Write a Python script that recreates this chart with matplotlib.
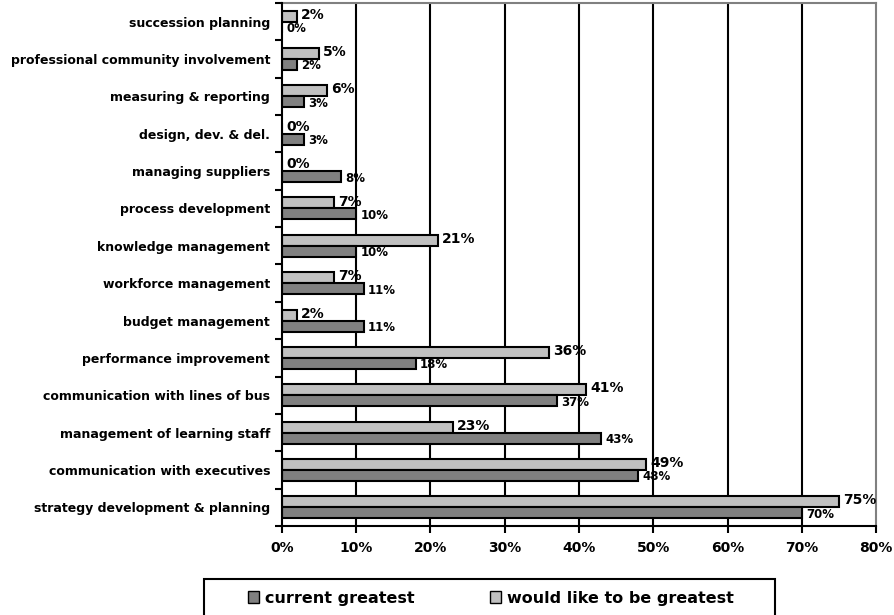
import numpy as np
import matplotlib
matplotlib.use('Agg')
import matplotlib.pyplot as plt
from matplotlib.patches import Patch, Rectangle

plt.rcParams['font.family'] = ['DejaVu Sans']
plt.rcParams['font.weight'] = 'bold'

# categories listed top to bottom as in the chart
categories = ['succession planning', 'professional community involvement',
              'measuring & reporting', 'design, dev. & del.',
              'managing suppliers', 'process development',
              'knowledge management', 'workforce management',
              'budget management', 'performance improvement',
              'communication with lines of bus', 'management of learning staff',
              'communication with executives', 'strategy development & planning']
current = [0, 2, 3, 3, 8, 10, 10, 11, 11, 18, 37, 43, 48, 70]
would_like = [2, 5, 6, 0, 0, 7, 21, 7, 2, 36, 41, 23, 49, 75]
xticks = [0, 10, 20, 30, 40, 50, 60, 70, 80]

dark = '#808080'
light = '#c0c0c0'

fig = plt.figure(figsize=(8.95, 6.15), dpi=100)
ax = fig.add_axes([282/895, 1-526/615, (876-282)/895, (526-3)/615])

n = len(categories)
y = np.arange(n)
h = 0.295
ax.barh(y - h/2, would_like, height=h, color=light, edgecolor='black', linewidth=1.5, zorder=3)
ax.barh(y + h/2, current, height=h, color=dark, edgecolor='black', linewidth=1.5, zorder=3)

for i in range(n):
    ax.annotate('%d%%' % would_like[i], xy=(would_like[i], y[i] - h/2), xytext=(3, 1),
                textcoords='offset points', va='center', ha='left', fontsize=10,
                fontweight='bold', zorder=5)
    ax.annotate('%d%%' % current[i], xy=(current[i], y[i] + h/2), xytext=(3, -1),
                textcoords='offset points', va='center', ha='left', fontsize=8.5,
                fontweight='bold', zorder=5)

ax.set_xlim(0, 80)
ax.set_ylim(n - 0.5, -0.5)
ax.set_xticks(xticks)
ax.set_xticklabels(['%d%%' % t for t in xticks], fontsize=10, fontweight='bold')
ax.set_yticks(y)
ax.set_yticklabels(categories, fontsize=9, fontweight='bold')
ax.set_yticks(np.arange(n + 1) - 0.5, minor=True)
ax.tick_params(axis='y', which='major', length=0, pad=8.5)
ax.tick_params(axis='y', which='minor', length=5, width=1.5, direction='out')
ax.tick_params(axis='x', length=5, width=1.5, direction='out', pad=6)

for xv in xticks[1:-1]:
    ax.axvline(xv, color='black', linewidth=1.5, zorder=1)

ax.spines['left'].set_linewidth(1.5)
ax.spines['bottom'].set_linewidth(1.5)
ax.spines['top'].set_color('#808080')
ax.spines['right'].set_color('#808080')
ax.spines['top'].set_linewidth(1.5)
ax.spines['right'].set_linewidth(1.5)
ax.spines['left'].set_zorder(4)

# legend box runs off the bottom edge like in the original
box = Rectangle((204/895, -0.05), (775-204)/895, 1.05 - 579/615, transform=fig.transFigure,
                facecolor='white', edgecolor='black', linewidth=1.5)
fig.add_artist(box)

handles = [Patch(facecolor=dark, edgecolor='black', linewidth=1),
           Patch(facecolor=light, edgecolor='black', linewidth=1)]
leg = fig.legend(handles, ['current greatest', 'would like to be greatest'],
                 loc='center', bbox_to_anchor=(491/895, 1-598/615),
                 ncol=2, fontsize=11.5, frameon=False,
                 handlelength=0.7, handleheight=0.7, handletextpad=0.4,
                 borderpad=0, columnspacing=4.7)
for t in leg.get_texts():
    t.set_fontweight('bold')

fig.savefig('out.png', dpi=100)
